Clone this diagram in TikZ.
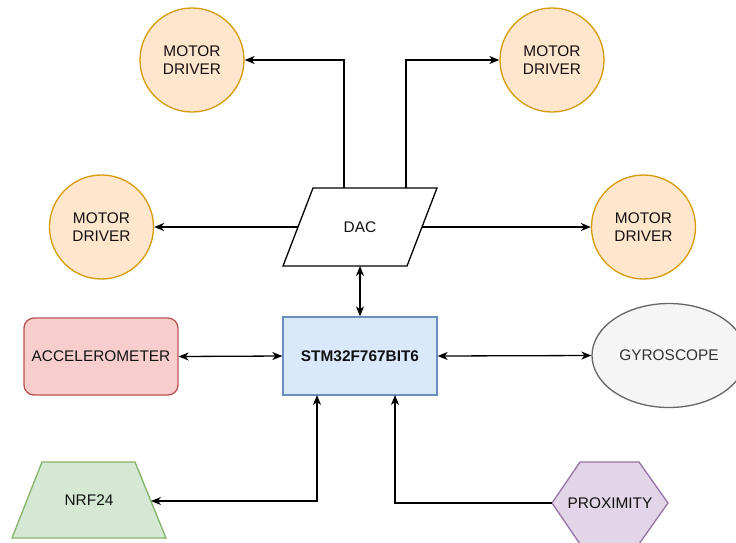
\documentclass[tikz,border=0pt]{standalone}
\usepackage{fontspec}
\setmainfont{Liberation Sans}
\usetikzlibrary{arrows.meta,shapes.geometric}
\definecolor{orF}{HTML}{FFE6CC}\definecolor{orS}{HTML}{D79B00}
\definecolor{blF}{HTML}{DAE8FC}\definecolor{blS}{HTML}{6C8EBF}
\definecolor{rdF}{HTML}{F8CECC}\definecolor{rdS}{HTML}{B85450}
\definecolor{grF}{HTML}{D5E8D4}\definecolor{grS}{HTML}{82B366}
\definecolor{puF}{HTML}{E1D5E7}\definecolor{puS}{HTML}{9673A6}
\definecolor{gyF}{HTML}{F5F5F5}\definecolor{gyS}{HTML}{666666}
\definecolor{gyT}{HTML}{333333}
\definecolor{txt}{HTML}{111111}
\begin{document}
\begin{tikzpicture}[x=1pt,y=-1pt,
  every node/.style={font=\fontsize{15.4}{17.5}\selectfont, text=txt, align=center, inner sep=0pt},
  motor/.style={circle, draw=orS, fill=orF, line width=1.3pt, minimum size=104pt},
  conn/.style={line width=1.3pt, draw=black},
  arr/.style={conn, -{Stealth[length=10pt,width=8pt,inset=3pt]}},
  darr/.style={conn, {Stealth[length=10pt,width=8pt,inset=3pt]}-{Stealth[length=10pt,width=8pt,inset=3pt]}},
  shp/.style={line width=1.3pt}
]
\useasboundingbox (0,0) rectangle (736,542);
\fill[white] (0,0) rectangle (736,542);

% motor drivers
\node[motor] (m1) at (192,60) {MOTOR\\DRIVER};
\node[motor] (m2) at (552,60) {MOTOR\\DRIVER};
\node[motor] (m3) at (101.5,227) {MOTOR\\DRIVER};
\node[motor] (m4) at (643.5,227) {MOTOR\\DRIVER};

% DAC parallelogram
\draw[shp, fill=white] (313,188) -- (437,188) -- (407,266) -- (283,266) -- cycle;
\node (dac) at (360,227) {DAC};
\coordinate (dacL) at (298,227);
\coordinate (dacR) at (422,227);
\coordinate (dacT1) at (344,188);
\coordinate (dacT2) at (406,188);
\coordinate (dacB) at (360,266);

% STM
\node[rectangle, draw=blS, fill=blF, line width=1.3pt, minimum width=154pt, minimum height=78pt, font=\fontsize{15.4}{17.5}\selectfont\bfseries] (stm) at (360,356) {STM32F767BIT6};
\coordinate (s1) at (317,395);
\coordinate (s2) at (395,395);

% accelerometer
\node[rectangle, rounded corners=10pt, draw=rdS, fill=rdF, line width=1.3pt, minimum width=154pt, minimum height=77pt] (acc) at (101,356.5) {ACCELEROMETER};

% gyroscope
\node[ellipse, draw=gyS, fill=gyF, line width=1.3pt, minimum width=154pt, minimum height=104pt, text=gyT] (gyro) at (669,355.5) {GYROSCOPE};

% NRF24 trapezoid
\draw[shp, draw=grS, fill=grF] (12,538) -- (42,462) -- (135,462) -- (166,538) -- cycle;
\node (nrf) at (89,500) {NRF24};
\coordinate (nrfR) at (151,501);

% proximity hexagon
\draw[shp, draw=puS, fill=puF] (552,503) -- (580,462) -- (639,462) -- (668,503) -- (639,544) -- (580,544) -- cycle;
\node[minimum width=116pt, minimum height=82pt] (prox) at (610,503) {PROXIMITY};

% connectors
\draw[arr] (dacT1) |- (m1.east);
\draw[arr] (dacT2) |- (m2.west);
\draw[arr] (dacL) -- (m3.east);
\draw[arr] (dacR) -- (m4.west);
\draw[darr] (dacB) -- (stm.north);
\draw[darr] (acc.east) -- (stm.west);
\draw[darr] (stm.east) -- (gyro.west);
\draw[darr] (s1) |- (nrfR);
\draw[arr] (prox.west) -| (s2);
\end{tikzpicture}
\end{document}
